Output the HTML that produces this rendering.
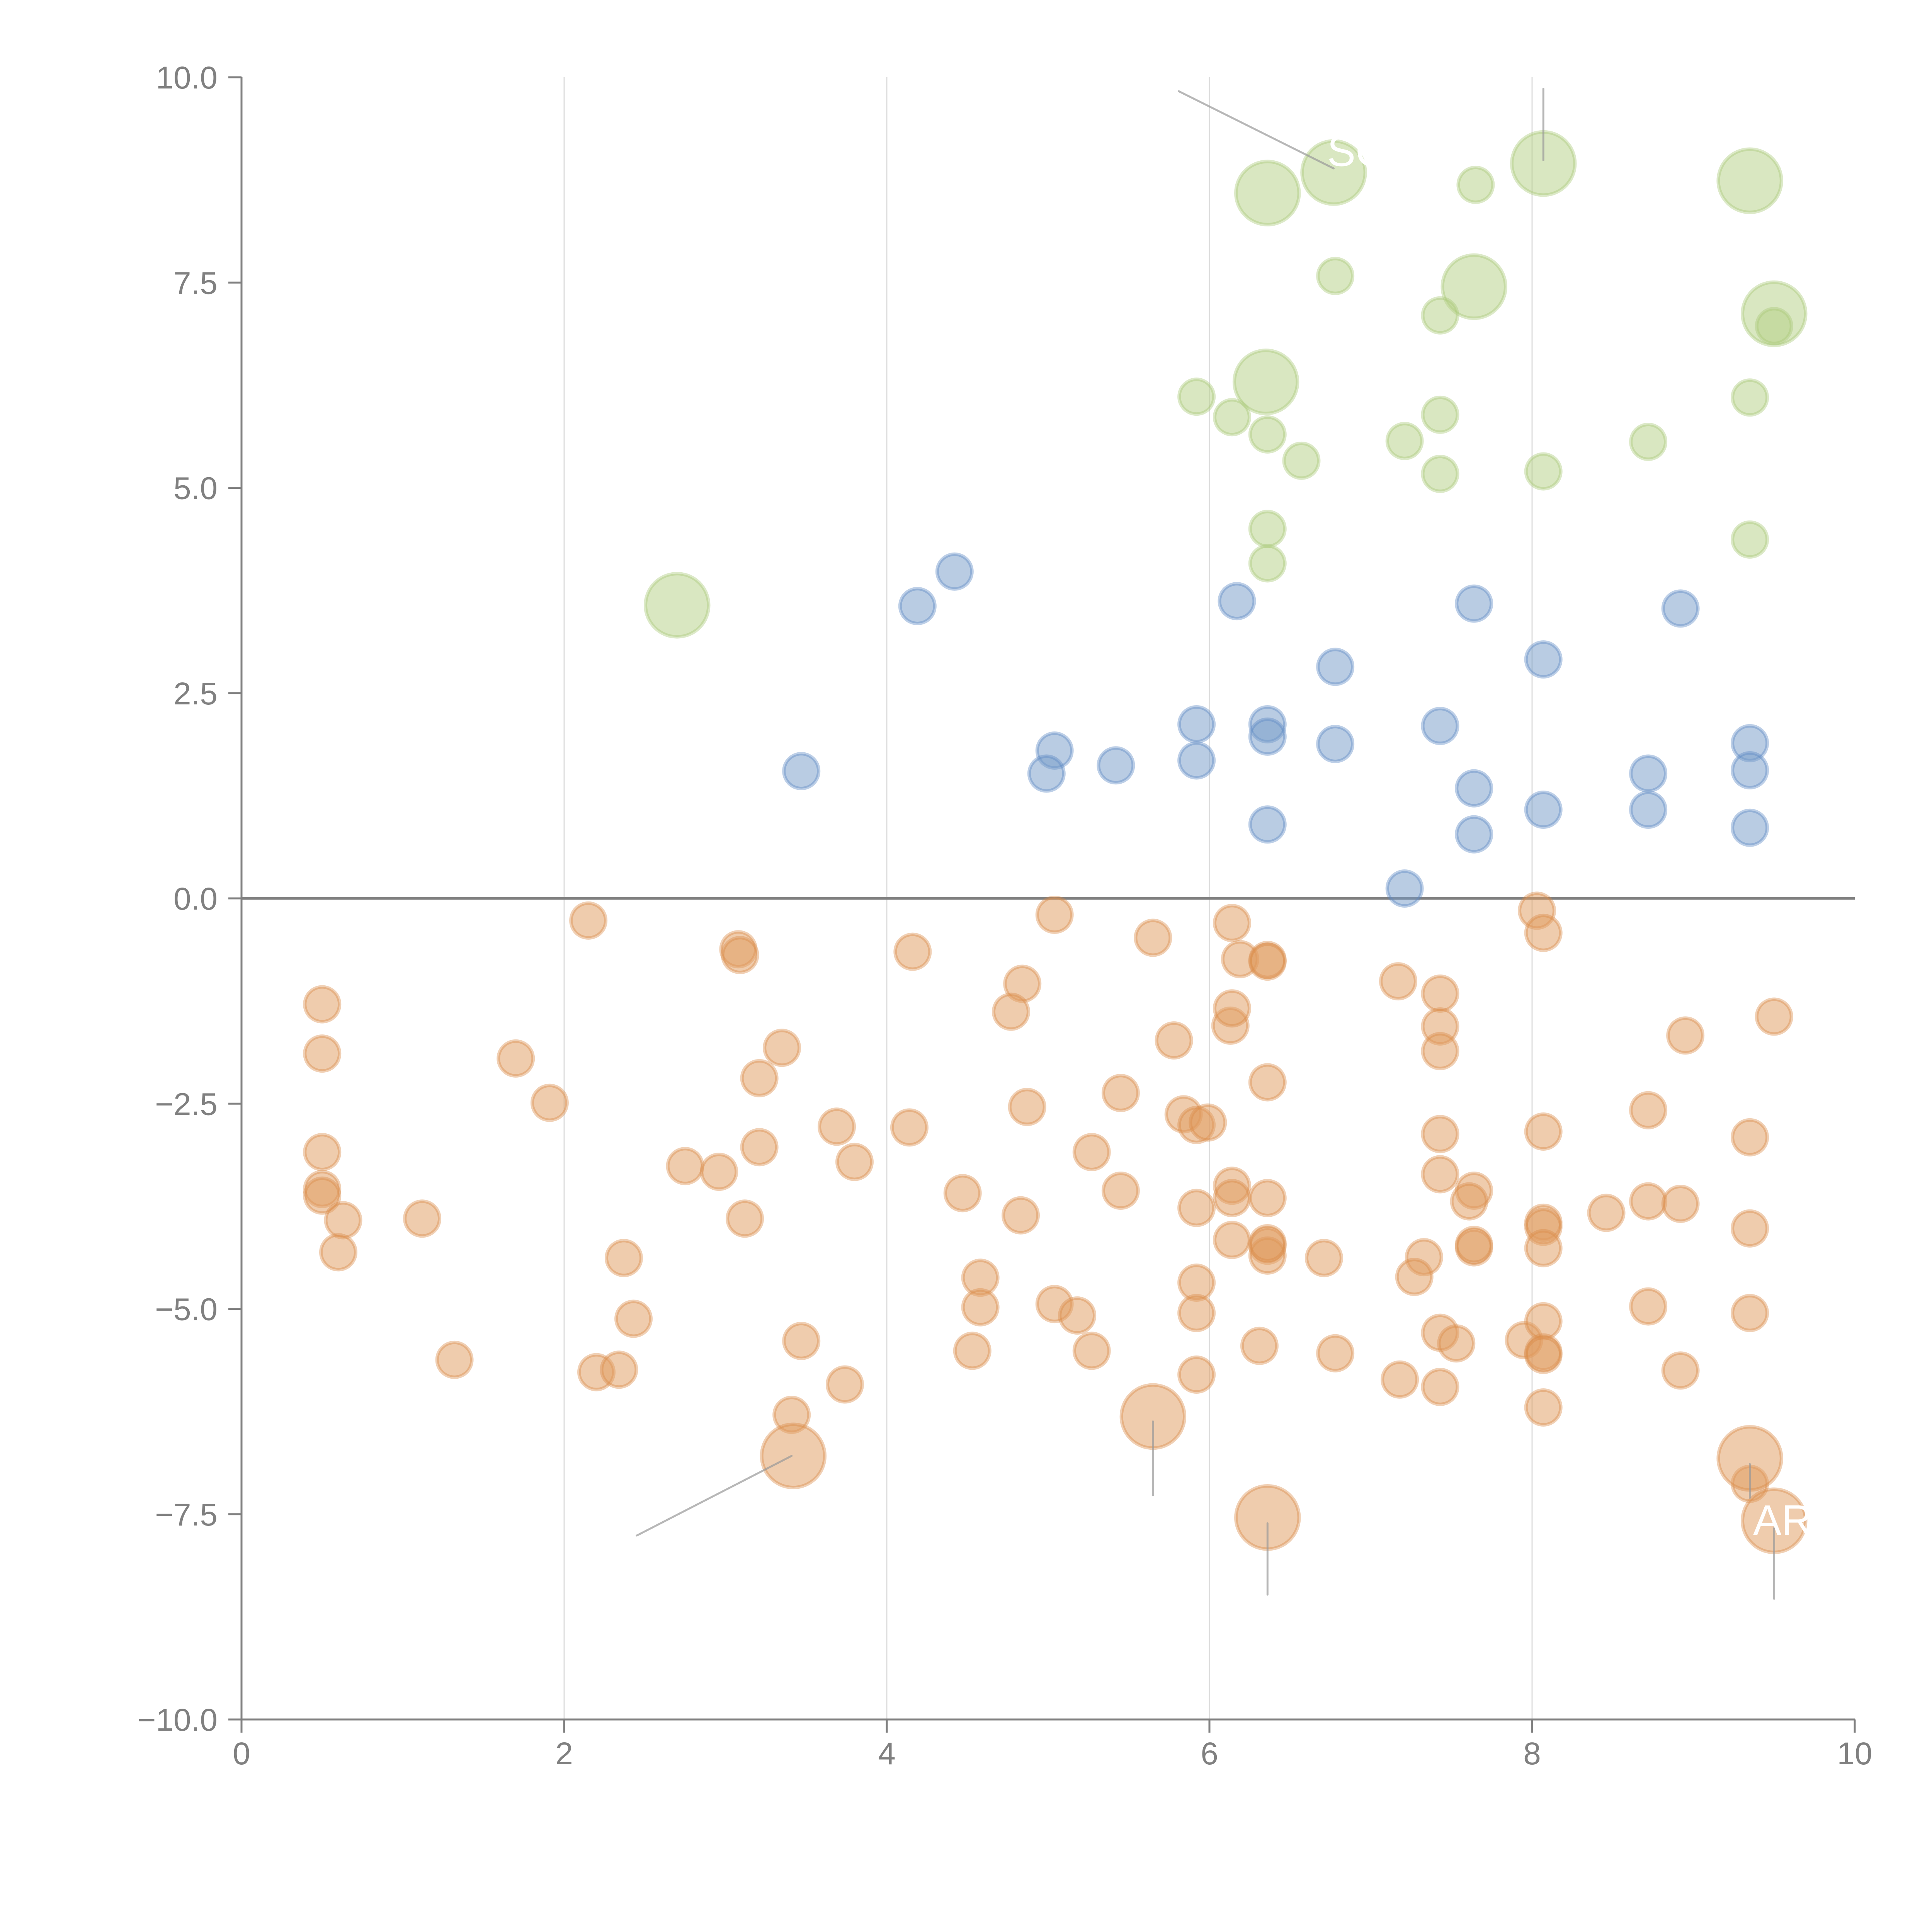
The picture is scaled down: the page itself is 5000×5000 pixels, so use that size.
<!DOCTYPE html>
<html><head><meta charset="utf-8"><style>html,body{margin:0;padding:0;background:#fff}svg{display:block}</style></head>
<body>
<svg id="chart" width="5000" height="5000" viewBox="0 0 5000 5000" xmlns="http://www.w3.org/2000/svg" font-family="'Liberation Sans', sans-serif">
<g id="grid"></g>
<g id="axes"></g>
<g id="marks"></g>
<g id="annot"></g>
</svg>
<script>
const xTicks = [0, 2, 4, 6, 8, 10];
const yTicks = [-10, -7.5, -5, -2.5, 0, 2.5, 5, 7.5, 10];
const yTickLabels = ["\u221210.0", "\u22127.5", "\u22125.0", "\u22122.5", "0.0", "2.5", "5.0", "7.5", "10.0"];

const greenX = [6.36, 6.77, 8.07, 9.35, 7.64, 9.50, 6.35, 2.70, 7.65, 6.78, 7.43, 9.50, 5.92, 6.14, 6.36, 6.57, 7.21, 7.43, 7.43, 8.07, 8.72, 9.35, 9.35, 6.36, 6.36];
const greenY = [8.59, 8.84, 8.95, 8.74, 7.45, 7.12, 6.29, 3.57, 8.69, 7.58, 7.10, 6.97, 6.11, 5.86, 5.65, 5.33, 5.57, 5.89, 5.17, 5.20, 5.56, 6.10, 4.37, 4.50, 4.08];
const greenS = [3.3, 3.3, 3.3, 3.3, 3.3, 3.3, 3.3, 3.3, 1, 1, 1, 1, 1, 1, 1, 1, 1, 1, 1, 1, 1, 1, 1, 1, 1];

const blueX = [4.42, 4.19, 6.17, 7.64, 8.92, 8.07, 6.78, 3.47, 5.04, 4.99, 5.42, 5.92, 5.92, 6.36, 6.36, 6.78, 7.43, 7.64, 7.64, 6.36, 8.07, 8.72, 8.72, 9.35, 9.35, 9.35, 7.21];
const blueY = [3.98, 3.56, 3.62, 3.59, 3.53, 2.91, 2.82, 1.55, 1.80, 1.52, 1.62, 2.12, 1.68, 2.12, 1.97, 1.88, 2.10, 1.34, 0.78, 0.90, 1.08, 1.52, 1.08, 1.89, 1.56, 0.86, 0.12];

const orangeX = [2.15, 3.08, 3.09, 5.04, 5.65, 4.16, 6.14, 6.19, 6.36, 6.36, 8.03, 8.07, 0.50, 0.50, 1.70, 1.91, 3.35, 3.21, 4.84, 4.77, 5.78, 6.13, 6.14, 7.17, 7.43, 7.43, 7.43, 9.50, 8.95, 0.50, 0.50, 0.50, 0.63, 0.60, 1.12, 2.75, 2.96, 3.21, 3.12, 3.69, 3.80, 4.14, 4.87, 5.45, 5.27, 4.47, 4.83, 5.45, 5.84, 5.92, 5.99, 6.36, 5.92, 6.14, 6.14, 6.36, 6.14, 6.36, 6.36, 6.36, 7.43, 7.43, 7.64, 7.61, 7.64, 7.64, 8.07, 8.07, 8.07, 8.07, 8.46, 8.72, 8.72, 8.92, 9.35, 9.35, 2.37, 2.43, 1.32, 2.20, 2.34, 3.47, 3.74, 3.41, 4.58, 4.58, 4.53, 5.04, 5.18, 5.27, 5.92, 5.92, 5.92, 6.31, 6.71, 6.78, 7.33, 7.27, 7.43, 7.53, 7.43, 7.18, 7.95, 8.07, 8.07, 8.07, 8.07, 8.72, 8.92, 9.35, 9.35, 3.42, 5.65, 6.36, 9.35, 9.50];
const orangeY = [-0.27, -0.62, -0.69, -0.20, -0.48, -0.65, -0.30, -0.74, -0.75, -0.77, -0.15, -0.42, -1.29, -1.89, -1.95, -2.49, -1.82, -2.19, -1.04, -1.38, -1.73, -1.55, -1.34, -1.01, -1.16, -1.56, -1.86, -1.44, -1.67, -3.09, -3.54, -3.62, -3.92, -4.31, -3.90, -3.26, -3.33, -3.03, -3.90, -2.78, -3.21, -2.79, -2.54, -2.37, -3.09, -3.59, -3.86, -3.56, -2.63, -2.76, -2.73, -2.24, -3.77, -3.50, -3.65, -3.65, -4.16, -4.23, -4.35, -4.20, -2.87, -3.36, -3.56, -3.69, -4.25, -4.22, -2.84, -3.95, -4.00, -4.26, -3.83, -2.58, -3.69, -3.72, -2.91, -4.02, -4.38, -5.12, -5.62, -5.77, -5.74, -5.39, -5.92, -6.29, -4.62, -4.98, -5.51, -4.94, -5.08, -5.51, -4.68, -5.05, -5.80, -5.45, -4.38, -5.54, -4.37, -4.61, -5.29, -5.42, -5.95, -5.86, -5.38, -5.15, -5.53, -5.56, -6.20, -4.97, -5.75, -5.05, -7.13, -6.79, -6.31, -7.54, -6.82, -7.58];
const orangeS = [1,1,1,1,1,1,1,1,1,1,1,1,1,1,1,1,1,1,1,1,1,1,1,1,1,1,1,1,1,1,1,1,1,1,1,1,1,1,1,1,1,1,1,1,1,1,1,1,1,1,1,1,1,1,1,1,1,1,1,1,1,1,1,1,1,1,1,1,1,1,1,1,1,1,1,1,1,1,1,1,1,1,1,1,1,1,1,1,1,1,1,1,1,1,1,1,1,1,1,1,1,1,1,1,1,1,1,1,1,1,1,3.3,3.3,3.3,3.3,3.3];

const leaderX1 = [5.81, 8.07, 2.45, 5.65, 6.36, 9.50, 9.35];
const leaderY1 = [9.83, 9.86, -7.76, -6.37, -7.61, -7.67, -6.89];
const leaderX2 = [6.77, 8.07, 3.41, 5.65, 6.36, 9.50, 9.35];
const leaderY2 = [8.89, 8.99, -6.79, -7.27, -8.48, -8.53, -7.30];
const labelText = ["SOL", "AR"];
const labelX = [6.73, 9.37];
const labelY = [8.92, -7.75];

const NS = "http://www.w3.org/2000/svg";
const X0 = 625, X1 = 4800, Y0 = 4450, Y1 = 200;
function sx(v){ return X0 + (v - 0) / 10 * (X1 - X0); }
function sy(v){ return Y0 - (v + 10) / 20 * (Y0 - Y1); }
function sr(s){ return 45 * Math.sqrt(s); }
function mk(tag, attrs, parent){ const e = document.createElementNS(NS, tag); for (const k in attrs) e.setAttribute(k, attrs[k]); parent.appendChild(e); return e; }

const grid = document.getElementById('grid');
const axes = document.getElementById('axes');
const marks = document.getElementById('marks');
const annot = document.getElementById('annot');

xTicks.forEach(function(t){
  if (t > 0 && t < 10) {
    const g = mk('line', {x1: sx(t), x2: sx(t), y1: sy(10), y2: sy(-10), stroke: '#dcdcdc', 'stroke-width': 3}, grid);
    
    
  }
  const tk = mk('line', {x1: sx(t), x2: sx(t), y1: Y0, y2: Y0 + 34, stroke: '#808080', 'stroke-width': 5}, axes);
  
  
  const lb = mk('text', {x: sx(t), y: Y0 + 116, 'text-anchor': 'middle', 'font-size': 82, fill: '#808080'}, axes);
  lb.textContent = String(t);
  
  
});
yTicks.forEach(function(t, i){
  const tk = mk('line', {x1: X0 - 34, x2: X0, y1: sy(t), y2: sy(t), stroke: '#808080', 'stroke-width': 5}, axes);
  
  
  const lb = mk('text', {x: X0 - 62, y: sy(t) + 29, 'text-anchor': 'end', 'font-size': 82, fill: '#808080'}, axes);
  lb.textContent = yTickLabels[i];
  
  
});
const xa = mk('line', {x1: X0, x2: X1, y1: Y0, y2: Y0, stroke: '#808080', 'stroke-width': 5}, axes);


const ya = mk('line', {x1: X0, x2: X0, y1: Y1, y2: Y0, stroke: '#808080', 'stroke-width': 5}, axes);


const zl = mk('line', {x1: sx(0), x2: sx(10), y1: sy(0), y2: sy(0), stroke: '#808080', 'stroke-width': 7}, axes);



function series(xs, ys, ss, fill, stroke, name){
  xs.forEach(function(x, i){
    const c = mk('circle', {cx: sx(x), cy: sy(ys[i]), r: sr(ss ? ss[i] : 1), fill: fill, 'fill-opacity': 0.5, stroke: stroke, 'stroke-opacity': 0.4, 'stroke-width': 9}, marks);
    
    
  });
}
series(orangeX, orangeY, orangeS, '#e0995c', '#d98a45', 'orange-bubble');
series(blueX, blueY, null, '#7499c8', '#5b88c4', 'blue-bubble');
series(greenX, greenY, greenS, '#b4cf84', '#a8c775', 'green-bubble');

leaderX1.forEach(function(x, i){
  const l = mk('line', {x1: sx(x), y1: sy(leaderY1[i]), x2: sx(leaderX2[i]), y2: sy(leaderY2[i]), stroke: '#999', 'stroke-opacity': 0.7, 'stroke-width': 5, 'stroke-linecap': 'round'}, annot);
  
  
});
labelText.forEach(function(t, i){
  const tx = mk('text', {x: sx(labelX[i]), y: sy(labelY[i]), 'font-size': 110, fill: '#ffffff'}, annot);
  tx.textContent = t;
  
  
});
</script>
</body></html>
